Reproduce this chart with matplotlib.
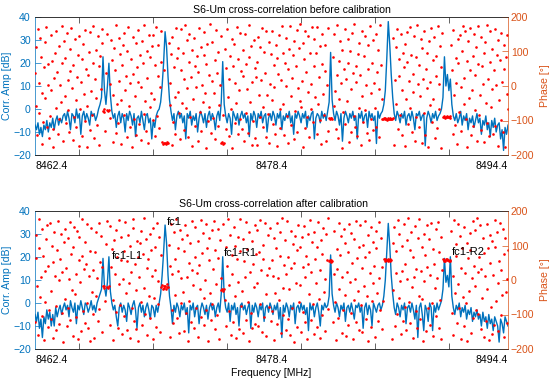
import numpy as np
import matplotlib
matplotlib.use('Agg')
import matplotlib.pyplot as plt

plt.rcParams['font.family'] = ['Liberation Sans', 'DejaVu Sans']

BLUE = '#0072BD'
ORANGE = '#D95319'
GRAY = '#262626'

f_start = 8462.4
f_stop = 8494.4

# correlation amplitude [dB], 0.1 MHz bins
amp_before = [
    -7, -9, -6, -11, -8, -12, -7, -9, -5, -10, -6, -8, -4, -9, -5, -3, -7, -4, -6, -3,
    -2, -5, -1, -4, -9, -2, -3, -6, 0, -4, -2, -11, -3, -1, -5, -2, -4, -7, -1, -3,
    -2, -5, -3, 0, 2, 5, 22.7, 8, 2, 10, 19.9, 6, -1, -4, -2, -8, -3, -1, -6, -2,
    -4, -10, -2, -5, -1, -3, -7, -2, -12, -4, -3, -6, -1, -5, -9, -3, -2, -6, -4, -13,
    -5, -8, -3, -1, 0, 3, 10, 20, 33.6, 27, 14, 4, -1, -5, -2, -9, -3, -1, -4, -2,
    -6, -3, -13, -2, -4, -1, -7, -3, -5, -2, -10, -4, -1, -3, -6, -2, -8, -3, -1, -5,
    -2, -4, -9, -3, -1, -5, 3, 20.6, 2, -3, -6, -2, -4, -11, -1, -3, -5, -2, -7, -3,
    -1, -4, -2, -6, -3, -12, -2, -5, -1, -3, -8, -2, -4, -1, -6, -3, -2, -10, -4, -2,
    -5, -1, -3, -7, -2, -4, -1, -9, -3, -5, -2, -4, -1, -6, -3, -11, -2, -4, -1, -3,
    -6, -2, -4, -1, -8, -3, -5, -2, -1, -13, -4, -2, -3, -6, -1, -4, -2, -5, -1, 3,
    24.6, 4, -2, -5, -1, -3, -7, -2, -14, -4, -1, -3, -6, -2, -4, -1, -5, -3, -13, -2,
    -4, -1, -6, -3, -2, -8, -1, -4, -2, -5, -3, -15, -1, -4, -2, -1, 2, 8, 22, 38,
    28, 15, 5, -2, -5, -1, -3, -6, -2, -4, -1, -7, -3, -2, -5, -1, -4, -9, -2, -3,
    -1, -5, -3, -2, -16, -4, -1, -3, -6, -2, -4, -1, -5, -3, -2, 0, 5, 22.7, 10, 15,
    8, 13, 2, -3, -5, -2, -6, -4, -1, -7, -3, -5, -2, -9, -4, -6, -3, -8, -5, -2,
    -6, -4, -11, -5, -7, -3, -9, -6, -12, -5, -8, -4, -10, -7, -6, -13, -9, -18, -8, -11, -7,
]

amp_after = [
    -5, -8, -4, -11, -7, -15, -6, -9, -3, -7, -4, -10, -5, -10, -2, -6, -3, -1, -5, -2,
    0, -3, -1, -6, 1, -2, -4, 0, -9, -1, -3, 1, -2, -5, 0, -1, -4, -2, 1, -3,
    -1, -4, 0, 2, 4, 6, 19.4, 7, 3, 9, 20.1, 5, 0, -3, -1, -6, -10, -2, 0, -4,
    -1, -3, -8, 0, -2, -5, -1, 1, -3, -11, -2, 0, -4, -1, -6, -2, 0, -3, -7, -1,
    -2, -6, -1, -4, 0, 4, 12, 22, 33.9, 26, 12, 3, -2, -9, -1, -4, 0, -2, -6, -1,
    -3, 0, -5, -2, -13, -1, -3, 0, -6, -2, -1, -9, -3, 0, -2, -5, -1, -7, -2, 0,
    -3, -1, -6, -2, 0, -4, 4, 20.1, 3, -2, -4, 0, -8, -1, -3, 0, -5, -2, -10, -1,
    0, -3, -1, -5, -2, 0, -11, -1, -4, 0, -2, -6, -1, -3, 0, -8, -2, -1, -4, 0,
    -2, -5, -1, -3, 0, -7, -2, -15, -1, -4, 0, -2, -6, -1, -3, 0, -9, -2, -1, -4,
    0, -3, -1, -5, -2, -12, 0, -3, -1, -6, -2, 0, -4, -10, -1, -3, 0, -2, -1, 3,
    20.9, 4, -1, -4, 0, -2, -6, -1, -3, 0, -8, -2, -1, -4, 0, -3, -7, -1, -2, 0,
    -4, -1, -11, -2, 0, -5, -1, -3, -10, 0, -2, -4, -1, 0, -3, -1, 3, 10, 22, 34.6,
    25, 12, 4, -2, -5, 0, -2, -6, -1, -3, 0, -9, -2, -1, -4, 0, -3, -7, -1, -15,
    -2, 0, -5, -12, -1, -3, -8, 0, -2, -12, -1, -4, 0, -3, -1, 1, 6, 19.4, 9, 12,
    7, 20.1, 3, -2, -5, -1, -3, 0, -6, -2, -4, -1, -7, -3, -5, -2, -8, -4, -6, -3,
    -7, -5, -10, -4, -8, -6, -11, -5, -9, -7, -12, -6, -8, -10, -17, -7, -9, -13, -6, -8, -10,
]

# phase [deg], 0.05 MHz bins
phase_before = [
    37, 112, -58, -141, 166, 9, -77, 140, 85, -20, -169, -103, 54, 128, -36, 171, -118, 4, 63, -152,
    -88, -11, 149, 72, -124, -177, 23, 96, 158, -63, 41, -139, -97, 117, 2, -45, 175, 68, -160, 130,
    -29, 81, -108, 153, 17, -71, -134, 44, 107, 169, -5, -156, 60, -90, 135, -41, -119, 26, 91, -173,
    146, -66, 12, -145, 79, 121, -23, -101, 163, 50, -178, -57, 33, 98, -128, 156, -14, -84, 173, 67,
    -150, 20, 104, -35, -113, 144, 58, -171, 87, -9, 126, 165, -72, -68, -74, -131, 39, 151, -69, -73,
    -71, 6, -94, 132, 75, -162, -26, 110, 47, -137, 178, -52, -107, 15, 139, 94, -168, -40, 61, 119,
    -83, 155, -13, 30, -148, 102, 170, -59, -120, 8, 77, -176, 143, 35, -95, -28, 125, -141, 56, 161,
    13, -111, 89, -157, -4, 131, 66, -80, 177, -43, -130, 100, 24, -166, 149, -61, 83, -19, 115, -99,
    147, -37, -146, 62, 172, -87, 28, 118, -123, -3, 159, 71, -163, -167, -166, 47, -164, -168, -162, -165,
    -166, 124, -54, 10, 93, -172, 141, -105, 55, -31, -140, 168, 80, -17, 111, -79, -155, 46, 164, -49,
    97, -127, 19, 176, -65, -6, 133, -149, 71, 152, -91, 25, -174, 103, -38, 140, 59, -115, -2, 86,
    -158, 42, 167, -76, 114, -129, 3, -47, 157, 91, -19, -179, 65, 122, -102, 31, -62, 179, -136, 14,
    128, -93, -21, 74, -153, 161, 38, -116, 99, -56, 4, 145, -166, -163, -167, -84, -164, 108, 52, -126,
    166, -33, -144, 21, 88, -67, 137, -180, 59, 123, -106, 8, -48, 172, -139, 77, -12, 154, -97, 44,
    -124, 105, 29, -159, 150, -78, 63, -8, -135, 178, 85, -45, 117, -170, 11, -100, 134, 53, -152, 26,
    70, -172, 142, -27, -91, 113, 16, 169, -118, -60, 99, 37, -147, 160, -25, -81, 128, -165, 5, 93,
    -40, 158, -109, 61, -3, -138, 120, 82, -175, 34, 147, -66, -121, 18, 173, -53, 95, -143, 66, 1,
    139, -86, 48, -164, 108, 174, -30, -112, 22, 90, -155, 131, -72, 57, 163, -134, -7, 109, -44, 180,
    -61, 14, 126, -178, 79, -122, 159, 40, -89, -16, 144, -147, 97, 6, -68, 171, -103, 59, 136, -31,
    95, -140, 170, -52, 27, -98, 115, -169, 64, 152, -24, -85, 43, 119, -160, 2, 167, -129, -93, -96,
    -94, -92, -97, 85, -58, 150, -14, -125, 176, 32, -151, 73, -39, 129, 10, -179, 104, -76, 48, 165,
    -110, 21, -43, 137, 68, -163, 101, -9, -132, 155, 39, -87, 179, -118, 57, 12, -145, 92, -65, 124,
    33, -171, 160, -28, -104, 86, 145, -70, 4, -136, 118, 50, -156, 174, -19, -95, 67, 132, -127, 9,
    -64, 152, -118, 41, 103, -8, -148, 177, 61, -38, -95, -97, -94, -96, -93, -95, -98, -94, -96, -95,
    -97, -94, -96, -95, -93, 140, -170, 18, 113, -53, 165, -126, 77, 28, -83, 150, -12, -142, 96, 54,
    -175, 122, -39, 69, 157, -110, 14, -64, 171, 91, -133, 36, -18, 146, -159, 83, -91, 176, 5, -120,
    62, -29, 135, -165, 109, 20, -79, 160, -141, 48, 97, -7, -178, 129, -56, 11, 168, -105, 74, -37,
    143, -150, 30, 88, -121, 175, -67, 6, 117, -179, 55, 154, -89, -91, -88, -92, -90, -87, -91, -89,
    -90, -92, -88, 120, 45, -139, 163, -26, -112, 81, 9, -168, 137, 66, -75, 147, -4, -131, 101, 175,
    -52, 24, 158, -96, 72, -178, 130, -35, 46, 169, -142, -13, 86, -117, 152, 31, -71, 114, -158, 63,
    173, -83, -27, 141, -128, 57, 7, -161, 95, 127, -49, 178, -106, 20, -145, 69, 160, -60, -9, 108,
    -139, 46, 164, -115, 2, 89, -173, 132, -41, 75, 155, -98, 13, -132, 118, 50, -176, 84, -22, 149,
    -67,
]

phase_after = [
    -122, 64, 131, -17, -158, 93, 176, -49, 8, -104, 147, 71, -175, 26, -63, 118, 159, -136, 42, -86,
    165, -31, -112, 100, 51, -169, 139, 12, -74, -144, 87, 172, -1, -128, 60, 133, -95, 22, -179, 109,
    -55, 148, 35, -133, -80, 121, 3, 167, -116, 76, -28, -161, 97, 154, -42, -107, 18, 142, -170, 57,
    124, -7, -149, 69, 178, -91, 33, -125, 110, 45, -66, 162, -138, 13, 85, -178, 151, -36, -99, 29,
    -167, 81, 140, -45, 6, -118, 165, -84, 52, 127, -152, 38, -18, -22, -16, -61, 103, 170, -20, -24,
    -17, 157, -129, 39, 90, -58, -174, 116, 18, -92, 145, 67, -140, -11, 173, -73, 59, 126, -157, 2,
    84, -103, 168, -37, -146, 55, 131, -9, -167, 98, 24, -81, 152, 177, -120, 47, -30, -143, 114, 66,
    -177, 9, 107, -64, 141, -131, 74, 180, -22, -99, 119, 36, -159, 61, -46, 134, -111, 88, 11, -171,
    150, -53, 28, 95, -137, 166, -70, -4, 125, -150, 73, -20, -14, -25, -18, -22, -16, -27, -12, -21,
    -19, 102, -164, 40, 161, -88, 17, -125, 138, 62, -43, 176, -109, 27, 92, -153, 144, -68, 5, 120,
    -34, -147, 83, 159, -96, 10, 129, -178, 50, -60, 108, -121, 171, 30, -14, -140, 67, 155, -82, 20,
    113, -165, 44, -27, 175, -106, 78, 137, -52, -131, 1, 163, -86, 93, -176, 58, 122, -38, -115, 146,
    -69, 31, 170, -142, 87, -13, -100, 149, 63, -171, 115, 7, -30, -27, -32, 162, -26, -58, 96, -134,
    42, 178, -90, -15, 131, -160, 72, 16, -123, 153, -47, 99, -168, 60, -5, 126, -142, 85, 176, -76,
    -33, 119, -155, 54, 9, -117, 167, 90, -64, -178, 139, 23, -96, 113, -140, 47, -19, 160, -128, 75,
    144, -8, -133, 81, 174, -69, 28, -150, 102, 61, -107, 166, -41, -163, 14, 130, -79, 35, 152, -118,
    -89, 57, 11, -174, 121, -37, 94, 164, -128, 5, -59, 138, 71, -155, 179, -24, -101, 43, 117, -146,
    18, 171, -112, 68, -26, -160, 143, 35, -82, 105, -179, 50, 127, -8, -137, 86, 160, -63, -14, 97,
    -150, 124, 39, -93, 157, 8, -122, 70, -171, 132, 46, -40, 174, -115, 22, 109, -69, -157, 140, 61,
    -10, -135, 97, 168, -56, 30, -169, 115, 76, -101, 150, -34, 4, -148, 134, 59, -84, 179, 54, 57,
    52, 58, 55, -123, 17, 142, -64, -175, 91, 33, -111, 165, -27, 72, 128, -153, 10, -88, 147, -43,
    106, -163, 23, 80, -130, 161, -6, -97, 137, 49, -172, 118, -57, 3, 170, -121, 64, -33, 96, -146,
    158, -72, 36, -150, 101, -18, 172, 67, -113, -45, 129, -178, 82, 20, -136, 153, -61, 111, -9, 41,
    -164, 93, 143, -37, -118, 7, 168, -86, 121, -143, 39, -60, 60, 55, 62, 57, 59, 54, 61, 58,
    56, 60, 57, -170, 107, -28, 154, -134, 19, 83, -99, 175, -52, 134, -4, -157, 98, 27, -120, 163,
    -78, 45, -146, 115, 4, 179, -63, -126, 88, 140, -21, 66, -167, 10, 157, -91, 32, -139, 123, -47,
    177, -114, 25, 96, -55, -176, 132, -3, 73, -148, 160, 39, -82, 118, -129, 14, 166, -66, 90, -161,
    47, -24, 149, -103, 7, 169, -140, 82, -58, 125, -171, 30, 61, 56, 59, 55, 60, 57, 62, 58,
    54, 59, 56, 141, -95, 12, -158, 174, -37, 104, 71, -125, 163, -12, -80, 127, 36, -170, 92, -49,
    -133, 154, 20, -68, 108, -177, 63, -31, 137, 86, -154, 5, 171, -109, 42, -16, 145, -86, 179, 24,
    -98, 66, 158, -143, 33, -51, 121, -165, 78, 11, -119, 162, -27, 94, -175, 130, 49, -79, -156, 113,
    15, -130, 97, 175, -61, 139, -8, -149, 56, 166, -102, 28, -44, 148, -166, 75, 122, -35, 3, -124,
    88,
]

titles = ['S6-Um cross-correlation before calibration',
          'S6-Um cross-correlation after calibration']
title_x = [0.543, 0.504]
tick_pos = [8465.4, 8470.4, 8475.4, 8480.4, 8485.4, 8490.4]
tick_text = [(8462.4, '8462.4', 'left'), (8478.4, '8478.4', 'center'), (8494.4, '8494.4', 'right')]

# peak labels in the lower panel
peak_labels = ['fc1', 'fc1-L1', 'fc1-R1', 'fc1-R2']
peak_label_f = [8471.33, 8467.59, 8475.19, 8490.59]
peak_label_db = [35.2, 20.6, 21.7, 22.0]

FS = 7.6

fig = plt.figure(figsize=(5.5, 3.82), dpi=100)

panels = [(amp_before, phase_before, 1 - 155/382),
          (amp_after, phase_after, 1 - 349/382)]

for k, (amp, ph, y0) in enumerate(panels):
    ax = fig.add_axes([35/550, y0, 473/550, 138/382])
    fa = np.linspace(f_start, f_stop, len(amp))
    fp = np.linspace(f_start, f_stop, len(ph))
    ax.plot(fa, amp, color=BLUE, lw=1.0)
    ax.set_xlim(f_start, f_stop)
    ax.set_ylim(-20, 40)
    ax.set_yticks([-20, -10, 0, 10, 20, 30, 40])
    ax.set_xticks(tick_pos)
    ax.set_xticklabels([])
    ax.tick_params(axis='x', direction='in', top=True, length=4, width=0.5, color=GRAY)
    ax.tick_params(axis='y', direction='in', length=4, width=0.5, color=BLUE,
                   labelcolor=BLUE, labelsize=FS, pad=3)
    ax.set_ylabel('Corr. Amp [dB]', color=BLUE, fontsize=FS, labelpad=0.5)
    for sp in ['top', 'bottom']:
        ax.spines[sp].set_color(GRAY)
        ax.spines[sp].set_linewidth(0.5)
    ax.spines['left'].set_color(BLUE)
    ax.spines['left'].set_linewidth(0.5)
    ax.spines['right'].set_visible(False)
    for f, s, ha in tick_text:
        ax.text(f, -0.08, s, ha=ha, va='center', fontsize=FS,
                transform=ax.get_xaxis_transform())
    ax.set_title(titles[k], fontsize=FS, pad=3, x=title_x[k])

    axr = ax.twinx()
    axr.plot(fp, ph, 'o', color='red', ms=1.9, mew=0)
    axr.set_ylim(-200, 200)
    axr.set_yticks([-200, -100, 0, 100, 200])
    axr.tick_params(axis='y', direction='in', length=4, width=0.5, color=ORANGE,
                    labelcolor=ORANGE, labelsize=FS, pad=2)
    axr.set_ylabel('Phase [°]', color=ORANGE, fontsize=FS, labelpad=4)
    axr.spines['left'].set_visible(False)
    axr.spines['right'].set_color(ORANGE)
    axr.spines['right'].set_linewidth(0.5)
    for sp in ['top', 'bottom']:
        axr.spines[sp].set_color(GRAY)
        axr.spines[sp].set_linewidth(0.5)

    if k == 1:
        ax.text(8478.4, -0.172, 'Frequency [MHz]', ha='center', va='center', fontsize=FS,
                transform=ax.get_xaxis_transform())
        for s, f, v in zip(peak_labels, peak_label_f, peak_label_db):
            axr.text(f, v, s, ha='left', va='center', fontsize=8, transform=ax.transData,
                     zorder=5)

fig.savefig('out.png', dpi=100)
